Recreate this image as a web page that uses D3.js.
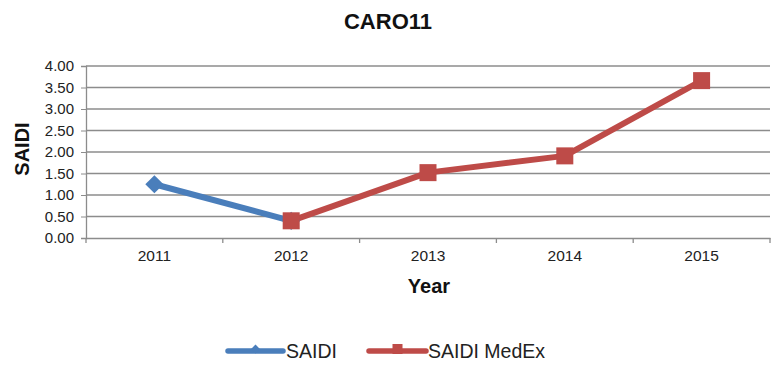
<!DOCTYPE html>
<html><head><meta charset="utf-8">
<script src="https://cdn.jsdelivr.net/npm/d3@7"></script>
<style>body{margin:0;background:#fff;}svg{display:block;font-family:"Liberation Sans",Arial,sans-serif;}</style>
</head><body><svg id="c" width="771" height="365"></svg>
<script>
const years = ["2011","2012","2013","2014","2015"];
const saidi = [1.25, 0.40, null, null, null];
const saidiMedEx = [null, 0.40, 1.52, 1.91, 3.66];
const yTicks = [0,0.5,1,1.5,2,2.5,3,3.5,4];
const seriesNames = ["SAIDI","SAIDI MedEx"];
const colors = ["#4a7ebb","#be4b48"];

const svg = d3.select("#c");
const m = {l:86, r:770, t:66, b:238};
const x = d3.scaleBand().domain(years).range([m.l, m.r]);
const y = d3.scaleLinear().domain([0,4]).range([m.b, m.t]);

// gridlines
svg.append("g").selectAll("line").data(yTicks.filter(d=>d>0)).join("line")
  .attr("x1", m.l).attr("x2", m.r).attr("y1", d=>y(d)).attr("y2", d=>y(d))
  .attr("stroke","#8c8c8c").attr("stroke-width",1.3);

// y axis
const ya = svg.append("g").attr("transform",`translate(${m.l},0)`)
  .call(d3.axisLeft(y).tickValues(yTicks).tickFormat(d3.format(".2f")).tickSize(5).tickPadding(7));
ya.select(".domain").attr("stroke","#8c8c8c").attr("stroke-width",1.3);
ya.selectAll(".tick line").attr("stroke","#8c8c8c");
ya.selectAll("text").attr("font-size",15).attr("fill","#222").attr("font-family","Liberation Sans, Arial");

// x axis
const xa = svg.append("g").attr("transform",`translate(0,${m.b})`)
  .call(d3.axisBottom(x).tickSize(0).tickPadding(12));
xa.select(".domain").attr("stroke","#8c8c8c").attr("stroke-width",1.3);
xa.selectAll("text").attr("font-size",15.5).attr("fill","#222").attr("font-family","Liberation Sans, Arial");
// boundary ticks
const bounds = years.map(d=>x(d)).concat([m.r]);
svg.append("g").selectAll("line").data(bounds).join("line")
  .attr("x1",d=>d).attr("x2",d=>d).attr("y1",m.b).attr("y2",m.b+5)
  .attr("stroke","#8c8c8c").attr("stroke-width",1.3);

const cx = d => x(d) + x.bandwidth()/2;
const line = d3.line().defined(d=>d.v!=null).x(d=>cx(d.k)).y(d=>y(d.v));
const data = [saidi, saidiMedEx].map(arr => years.map((k,i)=>({k, v:arr[i]})));

data.forEach((s,i)=>{
  svg.append("path").datum(s).attr("d",line).attr("fill","none")
    .attr("stroke",colors[i]).attr("stroke-width",6).attr("stroke-linejoin","round");
});
// markers
svg.append("g").selectAll("path").data(data[0].filter(d=>d.v!=null)).join("path")
  .attr("d", d3.symbol(d3.symbolDiamond2, 210))
  .attr("transform", d=>`translate(${cx(d.k)},${y(d.v)})`)
  .attr("fill",colors[0]);
svg.append("g").selectAll("rect").data(data[1].filter(d=>d.v!=null)).join("rect")
  .attr("x", d=>cx(d.k)-8.5).attr("y", d=>y(d.v)-8.5).attr("width",17).attr("height",17)
  .attr("fill",colors[1]);

// title
svg.append("text").attr("x",388).attr("y",29).attr("text-anchor","middle")
  .attr("font-size",22).attr("font-weight","bold").attr("fill","#111").text("CARO11");
// axis titles
svg.append("text").attr("x",429).attr("y",293).attr("text-anchor","middle")
  .attr("font-size",20).attr("font-weight","bold").attr("fill","#111").text("Year");
svg.append("text").attr("transform","translate(29,149) rotate(-90)").attr("text-anchor","middle")
  .attr("font-size",20).attr("font-weight","bold").attr("fill","#111").text("SAIDI");

// legend
const lg = svg.append("g");
const items = [{x1:228,x2:283,tx:286},{x1:369,x2:426,tx:428}];
items.forEach((it,i)=>{
  lg.append("line").attr("x1",it.x1).attr("x2",it.x2).attr("y1",351).attr("y2",351)
    .attr("stroke",colors[i]).attr("stroke-width",5.5).attr("stroke-linecap","round");
  if(i===0){
    lg.append("path").attr("d",d3.symbol(d3.symbolDiamond2,50))
      .attr("transform",`translate(${(it.x1+it.x2)/2},349)`).attr("fill",colors[0]);
  } else {
    lg.append("rect").attr("x",(it.x1+it.x2)/2-5).attr("y",344).attr("width",10).attr("height",10).attr("fill",colors[1]);
  }
  lg.append("text").attr("x",it.tx).attr("y",358).attr("font-size",19.5).attr("fill","#222").text(seriesNames[i]);
});
</script></body></html>
